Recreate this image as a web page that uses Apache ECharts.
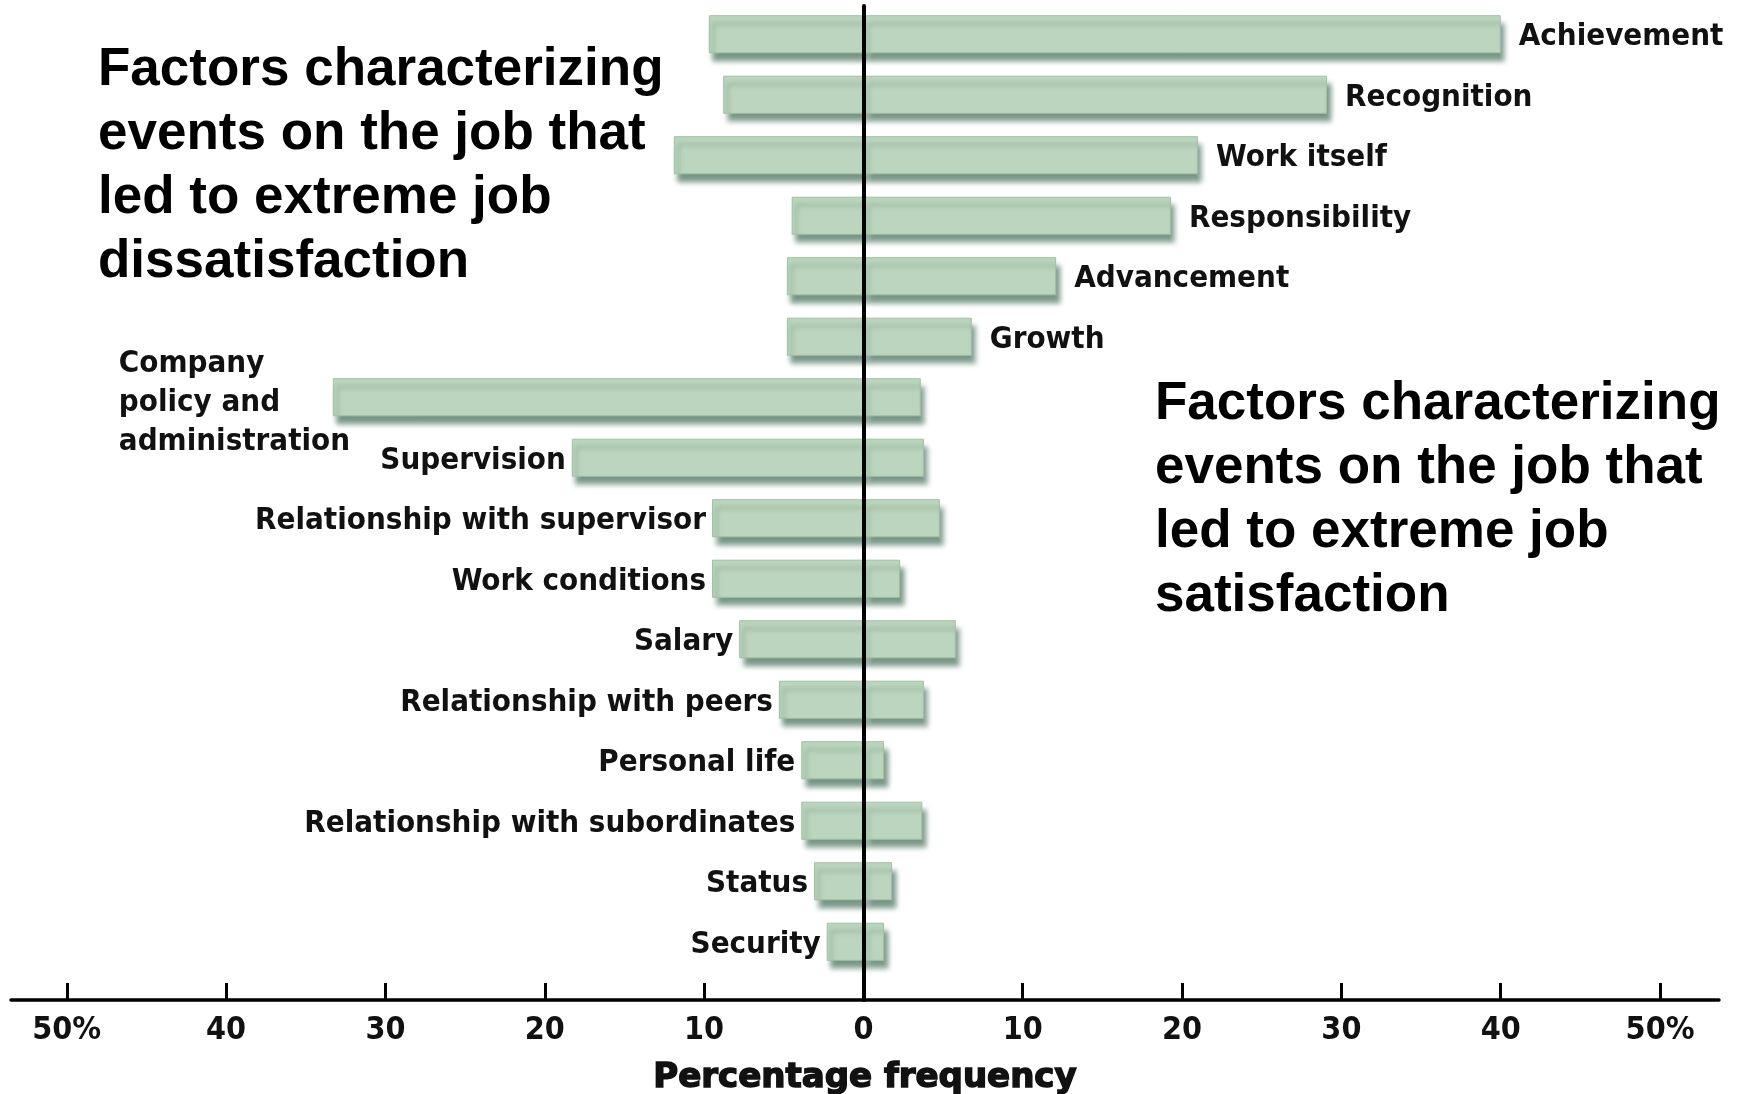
<!DOCTYPE html>
<html>
<head>
<meta charset="utf-8">
<script src="https://cdn.jsdelivr.net/npm/echarts@6/dist/echarts.min.js"></script>
<style>
html,body{margin:0;padding:0;background:#fff;}
#chart{width:1740px;height:1094px;}
</style>
</head>
<body>
<div id="chart"></div>
<script>
const categories = ['Achievement', 'Recognition', 'Work itself', 'Responsibility', 'Advancement', 'Growth',
  'Company\npolicy and\nadministration', 'Supervision', 'Relationship with supervisor', 'Work conditions',
  'Salary', 'Relationship with peers', 'Personal life', 'Relationship with subordinates', 'Status', 'Security'];
const dissatisfaction = [9.7, 8.8, 11.9, 4.5, 4.8, 4.8, 33.3, 18.3, 9.5, 9.5, 7.8, 5.3, 3.9, 3.9, 3.1, 2.3];
const satisfaction = [40, 29.1, 21, 19.3, 12.1, 6.8, 3.6, 3.8, 4.8, 2.3, 5.8, 3.8, 1.3, 3.7, 1.8, 1.3];
const motivatorCount = 6;
const tickValues = [-50, -40, -30, -20, -10, 0, 10, 20, 30, 40, 50];
const axisName = 'Percentage frequency';
const titleLeft = 'Factors characterizing\nevents on the job that\nled to extreme job\ndissatisfaction';
const titleRight = 'Factors characterizing\nevents on the job that\nled to extreme job\nsatisfaction';

const labelFont = "'DejaVu Sans Condensed', 'DejaVu Sans', sans-serif";
const xMin = -53.5, xMax = 53.7;

const barStyle = {
  color: '#bcd5be',
  borderColor: '#a3bfa3',
  borderWidth: 1,
  shadowColor: 'rgba(75,115,95,0.75)',
  shadowOffsetX: 4,
  shadowOffsetY: 8,
  shadowBlur: 5
};
const baseLabel = {
  fontFamily: labelFont,
  fontWeight: 'bold',
  fontSize: 31,
  color: '#111',
  offset: [0, 3],
  formatter: p => p.name
};

const satData = satisfaction.map((v, i) => ({
  value: v,
  label: { show: i < motivatorCount }
}));
const disData = dissatisfaction.map((v, i) => {
  const item = { value: -v, label: { show: i >= motivatorCount } };
  if (categories[i].indexOf('\n') >= 0) {
    item.label = { show: true, align: 'left', offset: [-208, 6], lineHeight: 39 };
  }
  return item;
});

const chart = echarts.init(document.getElementById('chart'), null, { renderer: 'canvas' });
chart.setOption({
  animation: false,
  backgroundColor: '#fff',
  title: [
    { text: titleLeft, left: 93, top: 33,
      textStyle: { fontFamily: "'Liberation Sans', Arial, sans-serif", fontWeight: 'bold', fontSize: 53, lineHeight: 64, color: '#000' } },
    { text: titleRight, left: 1150, top: 367,
      textStyle: { fontFamily: "'Liberation Sans', Arial, sans-serif", fontWeight: 'bold', fontSize: 53, lineHeight: 64, color: '#000' } }
  ],
  grid: [
    { left: 11, right: 21, top: 4, height: 968, outerBoundsMode: 'none', containLabel: false },
    { left: 11, right: 21, top: 6, bottom: 94, outerBoundsMode: 'none', containLabel: false }
  ],
  xAxis: [
    {
      type: 'value', gridIndex: 0, min: xMin, max: xMax, offset: 28,
      axisLine: { show: true, lineStyle: { color: '#000', width: 3.5 } },
      axisTick: { show: true, inside: true, length: 17, lineStyle: { color: '#000', width: 3 }, customValues: tickValues },
      axisLabel: {
        show: true, customValues: tickValues, margin: 15,
        fontFamily: labelFont, fontWeight: 'bold', fontSize: 32, color: '#111',
        formatter: v => Math.abs(v) === 50 ? '50%' : String(Math.abs(v))
      },
      splitLine: { show: false },
      name: axisName, nameLocation: 'middle', nameGap: 61,
      nameTextStyle: { fontFamily: "'DejaVu Sans', sans-serif", fontWeight: 'bold', fontSize: 34, color: '#111',
        textBorderColor: '#111', textBorderWidth: 1.5 }
    },
    {
      type: 'value', gridIndex: 1, min: xMin, max: xMax,
      axisLine: { show: false }, axisTick: { show: false }, axisLabel: { show: false }, splitLine: { show: false }
    }
  ],
  yAxis: [
    {
      type: 'category', gridIndex: 0, data: categories, inverse: true,
      axisLine: { show: false }, axisTick: { show: false }, axisLabel: { show: false }, splitLine: { show: false }
    },
    {
      type: 'value', gridIndex: 1, min: 0, max: 1, z: 10,
      axisLine: { show: true, onZero: true, lineStyle: { color: '#000', width: 4 } },
      axisTick: { show: false }, axisLabel: { show: false }, splitLine: { show: false }
    }
  ],
  series: [
    {
      name: 'Dissatisfaction', type: 'bar', xAxisIndex: 0, yAxisIndex: 0,
      data: disData, barWidth: '63%', barGap: '-100%',
      itemStyle: barStyle,
      label: Object.assign({ position: 'left', distance: 6 }, baseLabel)
    },
    {
      name: 'Satisfaction', type: 'bar', xAxisIndex: 0, yAxisIndex: 0,
      data: satData, barWidth: '63%', barGap: '-100%',
      itemStyle: barStyle,
      label: Object.assign({ position: 'right', distance: 18 }, baseLabel)
    }
  ]
});
</script>
</body>
</html>
